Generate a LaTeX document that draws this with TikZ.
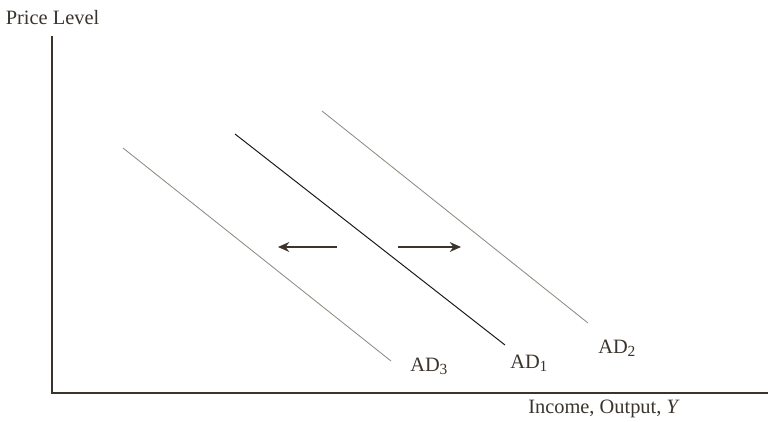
\documentclass[tikz,border=0pt]{standalone}
\usepackage{fontspec}
\setmainfont{Liberation Serif}
\usepackage{xcolor}
\usetikzlibrary{positioning, arrows.meta}
\definecolor{axisdark}{HTML}{3A342C}
\definecolor{curvegray}{HTML}{8C8C82}
\newcommand{\adlabel}[1]{AD\raisebox{-0.4ex}{\fontsize{11}{12}\selectfont #1}}

\begin{document}
\begin{tikzpicture}[x=0.025cm, y=-0.025cm, font=\fontsize{14.5}{16}\selectfont,
    axis/.style={line width=0.8pt, axisdark},
    adshift/.style={line width=0.6pt, curvegray},
    adbase/.style={line width=0.7pt, black!90},
    shiftarrow/.style={line width=0.8pt, axisdark, -{Stealth[length=8pt, width=7pt]}},
    adtext/.style={anchor=base west, inner sep=0pt, text=axisdark}]
  \useasboundingbox (0,0) rectangle (768,421);

  % Achsen
  \coordinate (origin) at (52,393);
  \coordinate (ytop) at (52,36);
  \coordinate (xend) at (768,393);
  \draw[axis] (ytop) -- (origin) -- (xend);
  \node[text=axisdark] (ylab) at (52.5,18) {Price Level};
  \node[text=axisdark] (xlab) at (604,409) {Income, Output, \textit{Y}};

  % Nachfragekurven
  \coordinate (ad3a) at (123,148);  \coordinate (ad3b) at (391,361);
  \coordinate (ad1a) at (235,134);  \coordinate (ad1b) at (505,345);
  \coordinate (ad2a) at (322,111);  \coordinate (ad2b) at (588,323);
  \draw[adshift] (ad3a) -- (ad3b);
  \draw[adbase]  (ad1a) -- (ad1b);
  \draw[adshift] (ad2a) -- (ad2b);
  \node[adtext] (ad3) at (410,371) {\adlabel{3}};
  \node[adtext] (ad1) at (510,368) {\adlabel{1}};
  \node[adtext] (ad2) at (598,353) {\adlabel{2}};

  % Verschiebungen
  \coordinate (lefttail) at (337,247);  \coordinate (lefttip) at (278,247);
  \coordinate (righttail) at (398,247); \coordinate (righttip) at (461,247);
  \draw[shiftarrow] (lefttail) -- (lefttip);
  \draw[shiftarrow] (righttail) -- (righttip);
\end{tikzpicture}
\end{document}
